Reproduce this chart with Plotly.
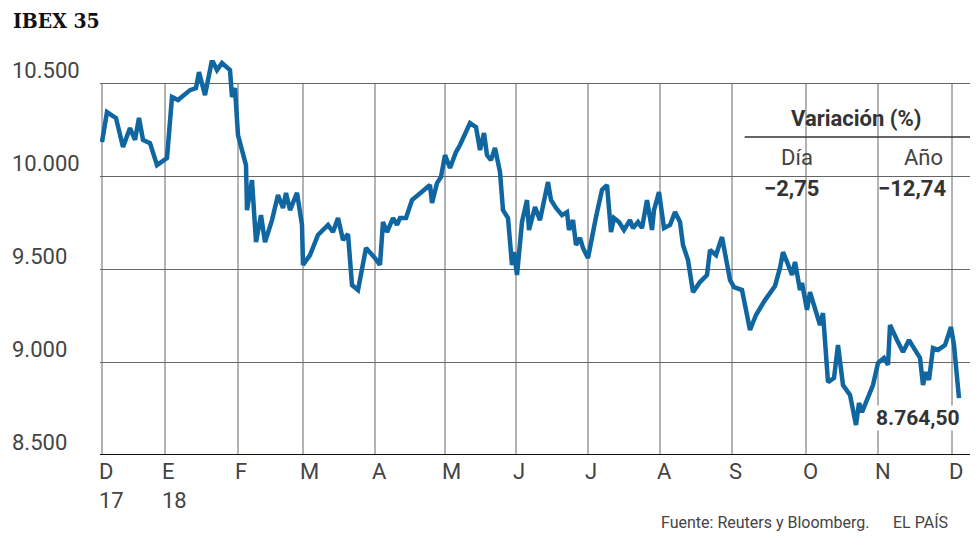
import plotly.graph_objects as go

# x position along the year (Dec 2017 -> Dec 2018), values of the IBEX 35
posicion = [0, 5, 14, 21, 28, 33, 37, 41, 48, 55, 65, 70, 76, 88, 94, 97, 103, 110, 115, 120, 128, 130, 133, 136,
            144, 145, 150, 154, 159, 163, 170, 176, 181, 184, 188, 195, 200, 201, 208, 216, 226, 231, 236, 241,
            246, 250, 256, 264, 273, 278, 281, 285, 291, 295, 298, 304, 310, 323, 328, 330, 335, 339, 343, 348,
            354, 358, 368, 374, 378, 382, 385, 389, 393, 398, 401, 406, 410, 412, 415, 420, 425, 427, 433, 438,
            446, 449, 454, 460, 465, 467, 471, 474, 478, 481, 486, 494, 500, 505, 509, 512, 517, 522, 528, 531,
            536, 540, 545, 550, 552, 557, 562, 568, 573, 578, 581, 586, 591, 598, 605, 608, 614, 620, 628, 632,
            640, 648, 654, 663, 670, 673, 678, 681, 685, 690, 693, 698, 700, 705, 708, 713, 718, 721, 726, 732,
            736, 741, 748, 754, 757, 760, 765, 771, 776, 782, 786, 788, 795, 801, 807, 813, 818, 821, 824, 827,
            831, 836, 843, 849, 852, 857]
valores = [10183, 10344, 10312, 10156, 10258, 10194, 10312, 10194, 10177, 10059, 10097, 10425, 10409, 10462, 10473,
           10559, 10435, 10624, 10570, 10608, 10570, 10425, 10473, 10220, 10059, 9817, 9978, 9645, 9790, 9645,
           9763, 9898, 9828, 9909, 9817, 9909, 9737, 9522, 9575, 9683, 9737, 9699, 9774, 9656, 9688, 9414, 9387,
           9613, 9559, 9522, 9753, 9699, 9774, 9737, 9774, 9774, 9871, 9935, 9952, 9855, 9962, 9995, 10113,
           10043, 10129, 10167, 10285, 10263, 10140, 10231, 10113, 10086, 10151, 10022, 9817, 9774, 9522, 9591,
           9468, 9753, 9871, 9710, 9833, 9763, 9968, 9871, 9828, 9790, 9806, 9710, 9763, 9629, 9667, 9613, 9559,
           9780, 9925, 9952, 9699, 9774, 9753, 9710, 9763, 9720, 9753, 9720, 9871, 9710, 9817, 9914, 9720, 9737,
           9806, 9753, 9629, 9548, 9376, 9430, 9468, 9602, 9575, 9672, 9441, 9403, 9387, 9172, 9253, 9333, 9387,
           9409, 9506, 9591, 9538, 9468, 9538, 9387, 9425, 9280, 9376, 9280, 9199, 9263, 8892, 8914, 9091, 8876,
           8823, 8661, 8780, 8731, 8796, 8876, 8995, 9022, 8984, 9199, 9118, 9054, 9118, 9065, 9022, 8876, 8946,
           8903, 9075, 9065, 9091, 9188, 9091, 8806]
meses = ["D", "E", "F", "M", "A", "M", "J", "J", "A", "S", "O", "N", "D"]
anios = ["17", "18", "", "", "", "", "", "", "", "", "", "", ""]
pos_meses = [0, 63, 136, 201, 273, 343, 414, 486, 558, 630, 704, 776, 850]
y_ticks = [8500, 9000, 9500, 10000, 10500]
y_labels = ["8.500", "9.000", "9.500", "10.000", "10.500"]

FONT = "Roboto"
GRIS = "#444"
AZUL = "#0f66a0"
fig = go.Figure()
fig.add_trace(go.Scatter(x=posicion, y=valores, mode="lines", cliponaxis=False,
                         line=dict(color=AZUL, width=4.5), hoverinfo="skip"))

fig.update_xaxes(range=[-2, 868], showgrid=False, showticklabels=False, zeroline=False)
fig.update_yaxes(range=[8500, 10624], tickvals=y_ticks, showticklabels=False,
                 gridcolor="#666", gridwidth=1, zeroline=False)


def texto(x, y, t, size=22, color="#333", **kw):
    d = dict(x=x, y=y, xref="paper", yref="paper", text=t, showarrow=False,
             xanchor="center", yanchor="middle", font=dict(family=FONT, size=size, color=color))
    d.update(kw)
    return d


ann = []
for v, t in zip(y_ticks, y_labels):
    ann.append(dict(x=0, xref="paper", xshift=-90, y=v, yref="y", yshift=-2, text=t, showarrow=False,
                    xanchor="left", yanchor="bottom", font=dict(family=FONT, size=22, color=GRIS)))
for p, m, a in zip(pos_meses, meses, anios):
    ann.append(dict(x=p, y=0, yref="paper", yshift=-2, text=m + ("<br>" + a if a else ""),
                    showarrow=False, xanchor="left", yanchor="top", xshift=-5, align="left",
                    font=dict(family=FONT, size=22, color=GRIS)))
ann += [
    texto(-0.102, 1.1, "<b>IBEX 35</b>", xanchor="left",
          font=dict(family="DejaVu Serif Condensed, serif", size=21, color="#111")),
    texto(0.87, 0.853, "<b>Variación (%)</b>"),
    texto(0.801, 0.754, "Día", color=GRIS),
    texto(0.946, 0.754, "Año", color=GRIS),
    texto(0.795, 0.675, "<b>−2,75</b>"),
    texto(0.933, 0.675, "<b>−12,74</b>"),
    texto(0.891, 0.094, "<b>8.764,50</b>", 21, xanchor="left", bgcolor="white", borderpad=0),
    texto(0.887, -0.17, "Fuente: Reuters y Bloomberg.", 16, GRIS, xanchor="right"),
    texto(0.977, -0.17, "EL PAÍS", 16, GRIS, xanchor="right"),
]

shapes = [dict(type="line", xref="x", yref="y", x0=p, x1=p, y0=8500, y1=10500,
               line=dict(color="#666", width=1), layer="below") for p in pos_meses]
shapes += [dict(type="line", xref="paper", yref="y", x0=0, x1=1, y0=8500, y1=8500,
                line=dict(color="#111", width=2)),
           dict(type="line", xref="paper", yref="paper", x0=0.741, x1=1.0, y0=0.805, y1=0.805,
                line=dict(color="#333", width=1.5))]

fig.update_layout(
    width=980, height=545, margin=dict(l=92, r=18, t=52, b=98),
    plot_bgcolor="white", paper_bgcolor="white", showlegend=False,
    annotations=ann, shapes=shapes,
)
fig.write_html("out.html")
